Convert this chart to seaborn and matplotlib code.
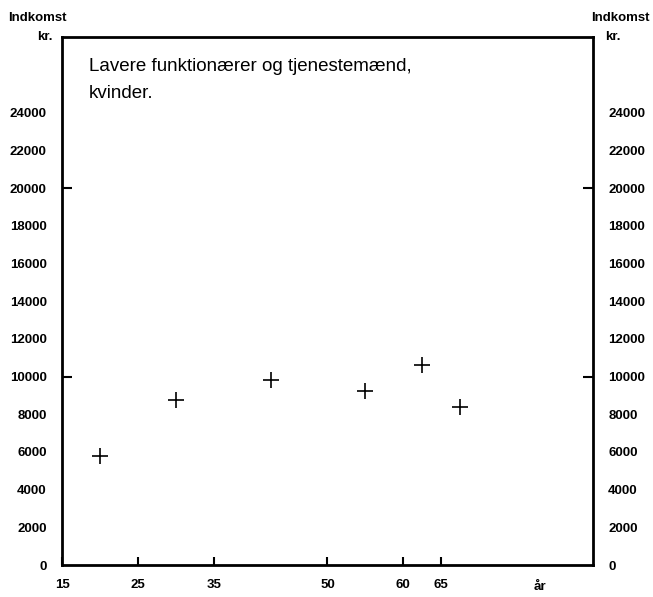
import matplotlib
matplotlib.use("Agg")
import matplotlib.pyplot as plt
import seaborn as sns
import pandas as pd

ages = [20, 30, 42.5, 55, 62.5, 67.5]
income = [5770, 8780, 9790, 9210, 10630, 8360]
yticks = list(range(0, 24001, 2000))
xticks = [15, 25, 35, 50, 60, 65]
title = "Lavere funktionærer og tjenestemænd,\nkvinder."

sns.set_theme(style="white")
plt.rcParams['font.family'] = ['Liberation Sans', 'DejaVu Sans']
plt.rcParams['text.color'] = 'black'
plt.rcParams['xtick.color'] = 'black'
plt.rcParams['ytick.color'] = 'black'

df = pd.DataFrame({"age": ages, "income": income})
fig = plt.figure(figsize=(6.53, 5.97), dpi=100)
ax = fig.add_axes([0.095, 0.0536, 0.813, 0.884])
sns.scatterplot(data=df, x="age", y="income", marker="+", s=130, color="black",
                linewidth=1.2, ax=ax, legend=False)
ax.set_xlim(15, 85)
ax.set_ylim(0, 28000)
ax.set_xlabel("")
ax.set_ylabel("")
for s in ax.spines.values():
    s.set_linewidth(2)
    s.set_color("black")

ax.set_xticks(xticks)
ax.set_xticklabels([str(v) for v in xticks], fontsize=9.5, fontweight="bold")
ax.tick_params(axis="x", direction="in", length=6, width=1.5, pad=10, bottom=True)
ax.set_yticks(yticks)
ax.set_yticklabels([str(v) for v in yticks], fontsize=9.5, fontweight="bold")
ax.tick_params(axis="y", which="major", direction="in", length=7, width=1.5, pad=11,
               left=True, right=True, labelleft=True, labelright=True)
for val, tick in zip(yticks, ax.yaxis.get_major_ticks()):
    if val not in (10000, 20000):
        tick.tick1line.set_visible(False)
        tick.tick2line.set_visible(False)
ax.text(78, -0.03, "år", transform=ax.get_xaxis_transform(), ha="center", va="top",
        fontsize=9.5, fontweight="bold")

fig.text(0.012, 0.97, "Indkomst", fontsize=9.5, fontweight="bold", ha="left", va="center")
fig.text(0.08, 0.938, "kr.", fontsize=9.5, fontweight="bold", ha="right", va="center")
fig.text(0.995, 0.97, "Indkomst", fontsize=9.5, fontweight="bold", ha="right", va="center")
fig.text(0.927, 0.938, "kr.", fontsize=9.5, fontweight="bold", ha="left", va="center")

ax.text(0.05, 0.96, title, transform=ax.transAxes, fontsize=13.5, ha="left", va="top",
        linespacing=1.75)

fig.savefig("out.png", dpi=100)
